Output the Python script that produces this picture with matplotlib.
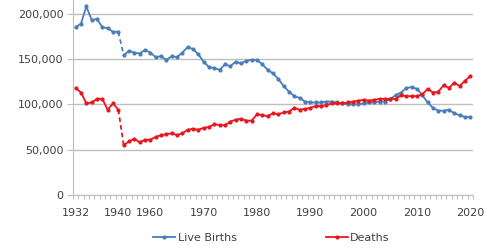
import numpy as np
import matplotlib.pyplot as plt
from matplotlib.ticker import FuncFormatter

# categories: 1932-1940, then 1955-2020 (gap shown dashed)
years = list(range(1932, 1941)) + list(range(1955, 2021))

births = [185, 189, 208, 193, 194, 185, 184, 180, 180,
          154, 159, 157, 156, 160, 157, 152, 153, 149, 153, 152, 157, 163, 161, 155,
          147, 141, 140, 138, 144, 142, 147, 145, 148, 149,
          149, 144, 138, 134, 128, 120, 114, 109, 107, 103,
          102, 102, 102, 103, 103, 102, 101, 100, 100, 100,
          101, 102, 102, 103, 103, 106, 110, 113, 118, 119,
          117, 110, 102, 96, 93, 93, 94, 90, 88, 86, 86]
deaths = [118, 113, 101, 102, 106, 106, 94, 101, 94,
          55, 59, 62, 58, 61, 61, 64, 66, 67, 68, 66, 68, 72, 73, 72,
          74, 75, 78, 77, 77, 81, 83, 84, 82, 82,
          89, 88, 87, 90, 89, 91, 92, 96, 94, 95,
          96, 98, 98, 99, 101, 101, 101, 102, 103, 104,
          105, 104, 105, 106, 106, 106, 106, 110, 109, 109,
          109, 111, 117, 113, 114, 121, 118, 124, 120, 126, 131]

births = np.array(births) * 1000
deaths = np.array(deaths) * 1000
label_years = [1932, 1940, 1960, 1970, 1980, 1990, 2000, 2010, 2020]

blue = "#4a7ebb"
red = "#e8161e"
grey = "#bfbfbf"
txt = "#404040"

plt.rcParams['font.family'] = ['DejaVu Sans']
fig = plt.figure(figsize=(4.89, 2.5), dpi=100)
ax = fig.add_axes([73/489, 1-195/250, 400/489, 195/250])

x = np.arange(len(years))
gap = years.index(1940)

for vals, col, name in [(births, blue, "Live Births"), (deaths, red, "Deaths")]:
    ax.plot(x[:gap+1], vals[:gap+1], color=col, lw=1.3, marker='o', ms=2, label=name)
    ax.plot(x[gap:gap+2], vals[gap:gap+2], color=col, lw=1.3, ls=(0, (2.5, 1.8)))
    ax.plot(x[gap+1:], vals[gap+1:], color=col, lw=1.3, marker='o', ms=2)

ax.set_xlim(-0.5, len(years) - 0.5)
ax.set_ylim(0, 215000)
ax.set_yticks([0, 50000, 100000, 150000, 200000])
ax.yaxis.set_major_formatter(FuncFormatter(lambda v, p: f"{int(v):,}"))
ax.grid(axis='y', color=grey, lw=1)
ax.set_axisbelow(True)

ax.set_xticks([years.index(y) for y in label_years])
ax.set_xticklabels([str(y) for y in label_years])
ax.set_xticks(np.arange(-0.5, len(years), 1), minor=True)
ax.tick_params(axis='x', which='major', length=0, pad=9, labelsize=8, labelcolor=txt)
ax.tick_params(axis='x', which='minor', length=3, color=grey, width=0.8)
ax.tick_params(axis='y', length=4, color=grey, pad=3, labelsize=8, labelcolor=txt)

for s in ['top', 'right']:
    ax.spines[s].set_visible(False)
for s in ['left', 'bottom']:
    ax.spines[s].set_color(grey)

handles, labels = ax.get_legend_handles_labels()
fig.legend(handles, labels, loc='center', bbox_to_anchor=(0.555, 0.048), ncol=2,
           frameon=False, fontsize=8, labelcolor=txt, handlelength=2.0,
           handletextpad=0.2, columnspacing=8)

fig.savefig("out.png", dpi=100)
